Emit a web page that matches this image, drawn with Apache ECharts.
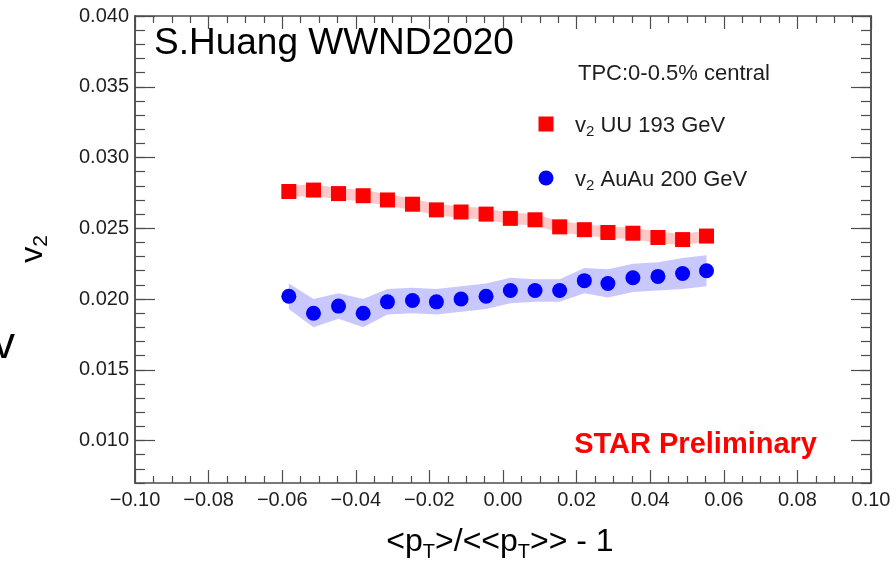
<!DOCTYPE html>
<html>
<head>
<meta charset="utf-8">
<script src="https://cdn.jsdelivr.net/npm/echarts@6/dist/echarts.min.js"></script>
<style>
  html, body { margin: 0; padding: 0; background: #fff; }
  #chart { width: 896px; height: 564px; }
</style>
</head>
<body>
<div id="chart"></div>
<script>
// <pT>/<<pT>> - 1 bins (same for both systems)
const ptBins = [-0.0582, -0.0515, -0.0447, -0.0380, -0.0314, -0.0246, -0.0181, -0.0114, -0.0046,
  0.0020, 0.0087, 0.0154, 0.0221, 0.0285, 0.0353, 0.0421, 0.0488, 0.0553];

const v2UU = [0.0276, 0.0277, 0.02745, 0.0273, 0.0270, 0.0267, 0.0263, 0.02615, 0.0260,
  0.0257, 0.0256, 0.0251, 0.0249, 0.0247, 0.02465, 0.02435, 0.0242, 0.02445];
const sysUU = [0.0004, 0.0004, 0.0004, 0.0004, 0.0004, 0.0004, 0.0004, 0.0004, 0.0004,
  0.0004, 0.0004, 0.0004, 0.0004, 0.0004, 0.0004, 0.0004, 0.0004, 0.0004];

const v2AuAu = [0.0202, 0.0190, 0.0195, 0.0190, 0.0198, 0.0199, 0.0198, 0.0200, 0.0202,
  0.0206, 0.0206, 0.0206, 0.0213, 0.0211, 0.0215, 0.0216, 0.0218, 0.0220];
const sysAuAu = [0.0009, 0.0010, 0.0009, 0.0010, 0.0009, 0.0009, 0.0009, 0.0009, 0.0009,
  0.0009, 0.0008, 0.0008, 0.0009, 0.0010, 0.0010, 0.0010, 0.0011, 0.0011];

const yMajorTicks = [0.010, 0.015, 0.020, 0.025, 0.030, 0.035, 0.040];
const yMinorTicks = [0.007, 0.008, 0.009, 0.010, 0.011, 0.012, 0.013, 0.014, 0.015, 0.016, 0.017,
  0.018, 0.019, 0.020, 0.021, 0.022, 0.023, 0.024, 0.025, 0.026, 0.027, 0.028, 0.029, 0.030,
  0.031, 0.032, 0.033, 0.034, 0.035, 0.036, 0.037, 0.038, 0.039, 0.040];

const FONT = 'Liberation Sans, Arial, Helvetica, sans-serif';
const AXIS_COLOR = '#4d4d4d';

const chart = echarts.init(document.getElementById('chart'));

function bandSeries(vals, errs, color) {
  return {
    type: 'custom',
    silent: true,
    z: 1,
    data: ptBins.map((x, i) => [x, vals[i] - errs[i], vals[i] + errs[i]]),
    encode: { x: 0, y: [1, 2] },
    renderItem: function (params, api) {
      if (params.dataIndex !== 0) return;
      const upper = ptBins.map((x, i) => api.coord([x, vals[i] + errs[i]]));
      const lower = ptBins.map((x, i) => api.coord([x, vals[i] - errs[i]])).reverse();
      return {
        type: 'polygon',
        shape: { points: upper.concat(lower) },
        style: { fill: color }
      };
    }
  };
}

function xAxisDef(pos) {
  return {
    type: 'value',
    position: pos,
    min: -0.1,
    max: 0.1,
    interval: 0.02,
    axisLine: { show: true, onZero: false, lineStyle: { color: AXIS_COLOR, width: 1.5 } },
    axisTick: { show: true, inside: true, length: 13, lineStyle: { color: AXIS_COLOR, width: 1.2 } },
    minorTick: { show: true, splitNumber: 4, length: 7, lineStyle: { color: AXIS_COLOR, width: 1.2 } },
    splitLine: { show: false },
    axisLabel: {
      show: pos === 'bottom',
      margin: 7,
      fontSize: 20,
      fontFamily: FONT,
      color: '#1e1e1e',
      formatter: v => (v < -1e-9 ? '\u2212' : '') + Math.abs(v).toFixed(2)
    }
  };
}

function yAxisDef(pos, ticks, len, labels) {
  return {
    type: 'value',
    position: pos,
    min: 0.007,
    max: 0.040,
    axisLine: { show: true, onZero: false, lineStyle: { color: AXIS_COLOR, width: 1.5 } },
    axisTick: { show: true, inside: true, length: len, customValues: ticks, lineStyle: { color: AXIS_COLOR, width: 1.2 } },
    splitLine: { show: false },
    axisLabel: {
      show: labels,
      customValues: yMajorTicks,
      margin: 6,
      fontSize: 20,
      fontFamily: FONT,
      color: '#1e1e1e',
      formatter: v => v.toFixed(3)
    }
  };
}

const legendRich = {
  v: { fontSize: 22, fontFamily: FONT, fill: '#1e1e1e' },
  s: { fontSize: 15, fontFamily: FONT, fill: '#1e1e1e', padding: [12, 0, 0, 0] },
  t: { fontSize: 22, fontFamily: FONT, fill: '#1e1e1e' }
};

const option = {
  animation: false,
  backgroundColor: '#ffffff',
  grid: { left: 135, right: 25, top: 16, bottom: 81, outerBoundsMode: 'none' },
  xAxis: [xAxisDef('bottom'), xAxisDef('top')],
  yAxis: [
    yAxisDef('left', yMajorTicks, 20, true),
    yAxisDef('left', yMinorTicks, 10, false),
    yAxisDef('right', yMajorTicks, 20, false),
    yAxisDef('right', yMinorTicks, 10, false)
  ],
  series: [
    bandSeries(v2UU, sysUU, '#ffc8c8'),
    bandSeries(v2AuAu, sysAuAu, '#c8c8ff'),
    {
      name: 'v2 UU 193 GeV',
      type: 'scatter',
      symbol: 'rect',
      symbolSize: 15,
      z: 3,
      itemStyle: { color: '#ff0000', opacity: 1 },
      data: ptBins.map((x, i) => [x, v2UU[i]])
    },
    {
      name: 'v2 AuAu 200 GeV',
      type: 'scatter',
      symbol: 'circle',
      symbolSize: 15,
      z: 3,
      itemStyle: { color: '#0000ff', opacity: 1 },
      data: ptBins.map((x, i) => [x, v2AuAu[i]])
    }
  ],
  graphic: [
    {
      type: 'text', x: 154, y: 44,
      style: { text: 'S.Huang WWND2020', font: '37px ' + FONT, fill: '#000', textAlign: 'left', textVerticalAlign: 'middle' }
    },
    {
      type: 'text', x: 578, y: 74,
      style: { text: 'TPC:0-0.5% central', font: '22px ' + FONT, fill: '#1e1e1e', textAlign: 'left', textVerticalAlign: 'middle' }
    },
    { type: 'rect', shape: { x: 538.5, y: 116.5, width: 15, height: 15 }, style: { fill: '#ff0000' } },
    {
      type: 'text', x: 575, y: 126,
      style: { text: '{v|v}{s|2}{t| UU 193 GeV}', textAlign: 'left', textVerticalAlign: 'middle', rich: legendRich }
    },
    { type: 'circle', shape: { cx: 546, cy: 178, r: 7.5 }, style: { fill: '#0000ff' } },
    {
      type: 'text', x: 575, y: 180,
      style: { text: '{v|v}{s|2}{t| AuAu 200 GeV}', textAlign: 'left', textVerticalAlign: 'middle', rich: legendRich }
    },
    {
      type: 'text', x: 817, y: 445,
      style: { text: 'STAR Preliminary', font: 'bold 29px ' + FONT, fill: '#ff0000', textAlign: 'right', textVerticalAlign: 'middle' }
    },
    {
      type: 'text', x: 33, y: 249, rotation: Math.PI / 2,
      style: {
        text: '{v|v}{s|2}', textAlign: 'center', textVerticalAlign: 'middle',
        rich: {
          v: { fontSize: 32, fontFamily: FONT, fill: '#000' },
          s: { fontSize: 21, fontFamily: FONT, fill: '#000', padding: [16, 0, 0, 0] }
        }
      }
    },
    {
      type: 'text', x: 500, y: 542,
      style: {
        text: '{a|<p}{t|T}{a|>/<<p}{t|T}{a|>> - 1}', textAlign: 'center', textVerticalAlign: 'middle',
        rich: {
          a: { fontSize: 32, fontFamily: FONT, fill: '#000' },
          t: { fontSize: 20, fontFamily: FONT, fill: '#000', padding: [20, 0, 0, 0] }
        }
      }
    },
    {
      type: 'text', x: -7, y: 346,
      style: { text: 'v', font: '44px ' + FONT, fill: '#000', textAlign: 'left', textVerticalAlign: 'middle' }
    }
  ]
};

chart.setOption(option);
</script>
</body>
</html>
